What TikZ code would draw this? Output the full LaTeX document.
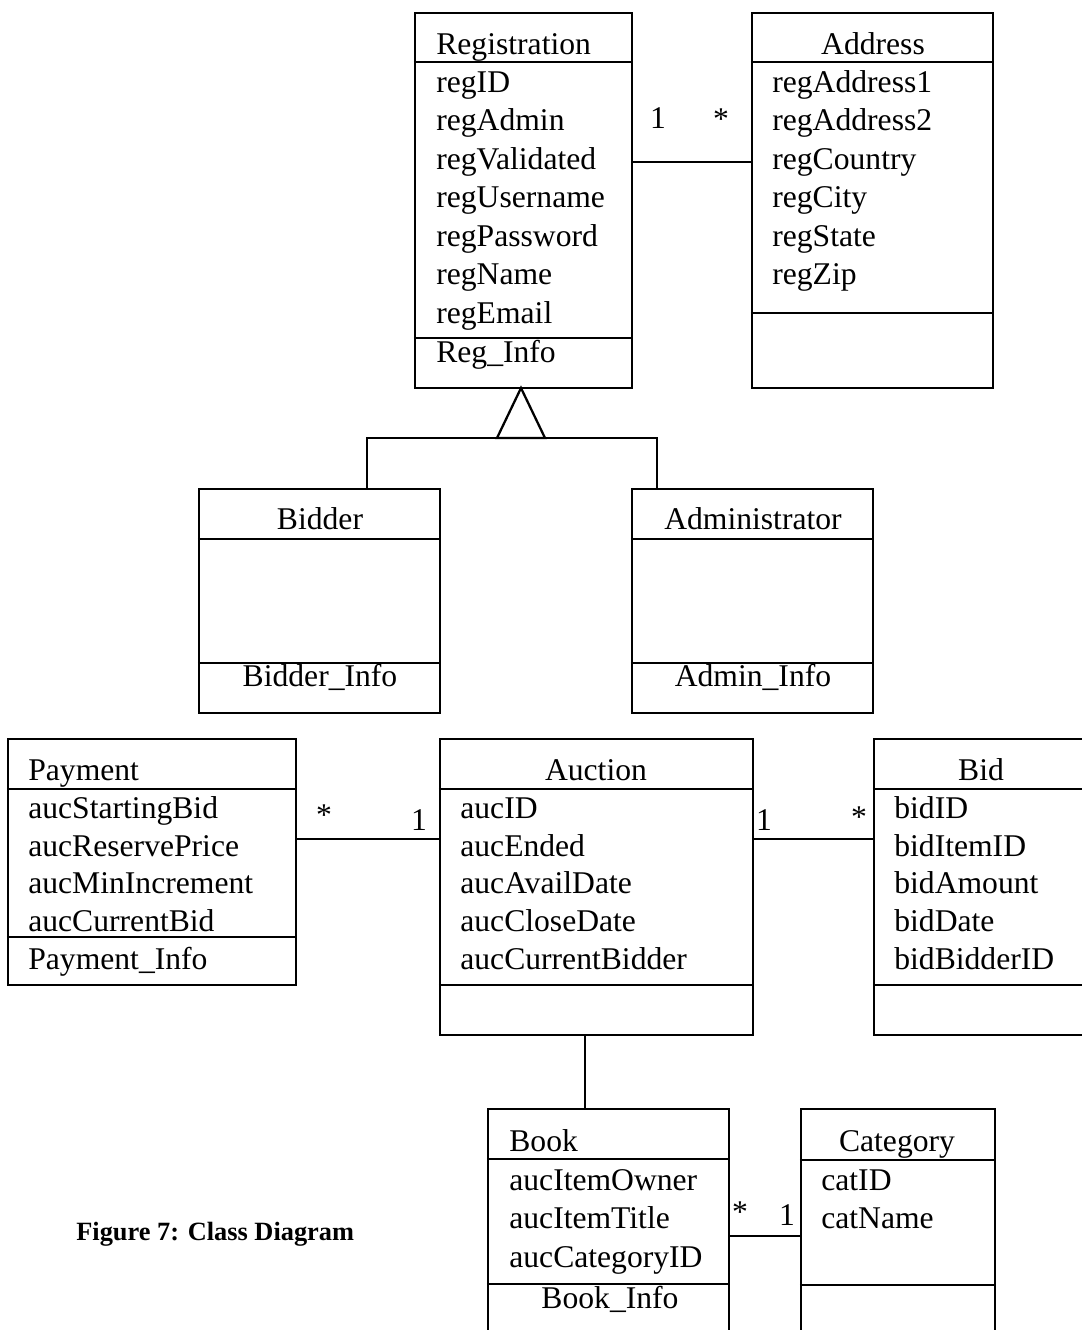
\documentclass[tikz,border=0pt]{standalone}
\usepackage{fontspec}
\setmainfont{Liberation Serif}
\usetikzlibrary{fit}

\begin{document}
\begin{tikzpicture}[x=0.02cm,y=-0.02cm,
    cls/.style={draw,line width=1.3pt,inner sep=0pt},
    sep/.style={line width=1.3pt},
    conn/.style={line width=1.3pt},
    attr/.style={anchor=west,inner sep=0pt,yshift=-3.4pt,text height=0.7em,text depth=0.2em,font=\fontsize{18}{21}\selectfont},
    title/.style={inner sep=0pt,yshift=-3.4pt,text height=0.7em,text depth=0.2em,font=\fontsize{18}{21}\selectfont},
    mult/.style={inner sep=0pt,yshift=-3.4pt,text height=0.7em,text depth=0.2em,font=\fontsize{18}{21}\selectfont}]
\useasboundingbox (0,0) rectangle (1082,1330);

% classes
\node[cls,fit={(415,13) (632,388)}] (reg) {};
\draw[sep] (reg.west |- 0,62) -- (reg.east |- 0,62);
\draw[sep] (reg.west |- 0,338) -- (reg.east |- 0,338);
\node[attr] (regT) at (436,44) {Registration};
\foreach \a [count=\i] in {regID,regAdmin,regValidated,regUsername,regPassword,regName,regEmail}
  \node[attr] (reg-\i) at (436,{82+38.5*(\i-1)}) {\a};
\node[attr] (regM) at (436,352) {Reg\_Info};

\node[cls,fit={(752,13) (993,388)}] (addr) {};
\draw[sep] (addr.west |- 0,62) -- (addr.east |- 0,62);
\draw[sep] (addr.west |- 0,313) -- (addr.east |- 0,313);
\node[title] (addrT) at (873,44) {Address};
\foreach \a [count=\i] in {regAddress1,regAddress2,regCountry,regCity,regState,regZip}
  \node[attr] (addr-\i) at (772,{82+38.5*(\i-1)}) {\a};

\node[cls,fit={(199,489) (440,713)}] (bidder) {};
\draw[sep] (bidder.west |- 0,539) -- (bidder.east |- 0,539);
\draw[sep] (bidder.west |- 0,663) -- (bidder.east |- 0,663);
\node[title] (bidderT) at (320,519) {Bidder};
\node[title] (bidderM) at (320,676) {Bidder\_Info};

\node[cls,fit={(632,489) (873,713)}] (admin) {};
\draw[sep] (admin.west |- 0,539) -- (admin.east |- 0,539);
\draw[sep] (admin.west |- 0,663) -- (admin.east |- 0,663);
\node[title] (adminT) at (753,519) {Administrator};
\node[title] (adminM) at (753,676) {Admin\_Info};

\node[cls,fit={(8,739) (296,985)}] (pay) {};
\draw[sep] (pay.west |- 0,789) -- (pay.east |- 0,789);
\draw[sep] (pay.west |- 0,937) -- (pay.east |- 0,937);
\node[attr] (payT) at (28,770) {Payment};
\foreach \a [count=\i] in {aucStartingBid,aucReservePrice,aucMinIncrement,aucCurrentBid}
  \node[attr] (pay-\i) at (28,{808+37.7*(\i-1)}) {\a};
\node[attr] (payM) at (28,959) {Payment\_Info};

\node[cls,fit={(440,739) (753,1035)}] (auc) {};
\draw[sep] (auc.west |- 0,789) -- (auc.east |- 0,789);
\draw[sep] (auc.west |- 0,985) -- (auc.east |- 0,985);
\node[title] (aucT) at (596,770) {Auction};
\foreach \a [count=\i] in {aucID,aucEnded,aucAvailDate,aucCloseDate,aucCurrentBidder}
  \node[attr] (auc-\i) at (460,{808+37.7*(\i-1)}) {\a};

\node[cls,fit={(874,739) (1095,1035)}] (bid) {};
\draw[sep] (bid.west |- 0,789) -- (bid.east |- 0,789);
\draw[sep] (bid.west |- 0,985) -- (bid.east |- 0,985);
\node[title] (bidT) at (981,770) {Bid};
\foreach \a [count=\i] in {bidID,bidItemID,bidAmount,bidDate,bidBidderID}
  \node[attr] (bid-\i) at (894,{808+37.7*(\i-1)}) {\a};

\node[cls,fit={(488,1109) (729,1345)}] (book) {};
\draw[sep] (book.west |- 0,1159) -- (book.east |- 0,1159);
\draw[sep] (book.west |- 0,1284) -- (book.east |- 0,1284);
\node[attr] (bookT) at (509,1141) {Book};
\foreach \a [count=\i] in {aucItemOwner,aucItemTitle,aucCategoryID}
  \node[attr] (book-\i) at (509,{1180+38.5*(\i-1)}) {\a};
\node[title] (bookM) at (610,1298) {Book\_Info};

\node[cls,fit={(801,1109) (995,1345)}] (cat) {};
\draw[sep] (cat.west |- 0,1160) -- (cat.east |- 0,1160);
\draw[sep] (cat.west |- 0,1285) -- (cat.east |- 0,1285);
\node[title] (catT) at (897,1141) {Category};
\foreach \a [count=\i] in {catID,catName}
  \node[attr] (cat-\i) at (821,{1180+38.5*(\i-1)}) {\a};

% associations
\coordinate (ra) at (0,162);
\draw[conn] (reg.east |- ra) -- (addr.west |- ra);
\node[mult] (ra1) at (658,118) {1};
\node[mult] (ra2) at (721,119) {*};

\coordinate (pa) at (0,839);
\draw[conn] (pay.east |- pa) -- (auc.west |- pa);
\node[mult] (pa1) at (324,815) {*};
\node[mult] (pa2) at (419,820) {1};

\draw[conn] (auc.east |- pa) -- (bid.west |- pa);
\node[mult] (ab1) at (764,820) {1};
\node[mult] (ab2) at (859,817) {*};

\coordinate (ak) at (585,0);
\draw[conn] (auc.south -| ak) -- (book.north -| ak);

\coordinate (bc) at (0,1236);
\draw[conn] (book.east |- bc) -- (cat.west |- bc);
\node[mult] (bc1) at (740,1212) {*};
\node[mult] (bc2) at (787,1215) {1};

% generalization
\coordinate (apex) at (521,388);
\coordinate (gl) at (367,438);
\coordinate (gr) at (657,438);
\draw[conn] (apex) -- (497,438) -- (545,438) -- cycle;
\draw[conn] (bidder.north -| gl) -- (gl) -- (gr) -- (admin.north -| gr);

\node[anchor=west,inner sep=0pt,font=\bfseries\fontsize{15}{18}\selectfont] (caption) at (76,1234) {Figure 7: Class Diagram};
\end{tikzpicture}
\end{document}
